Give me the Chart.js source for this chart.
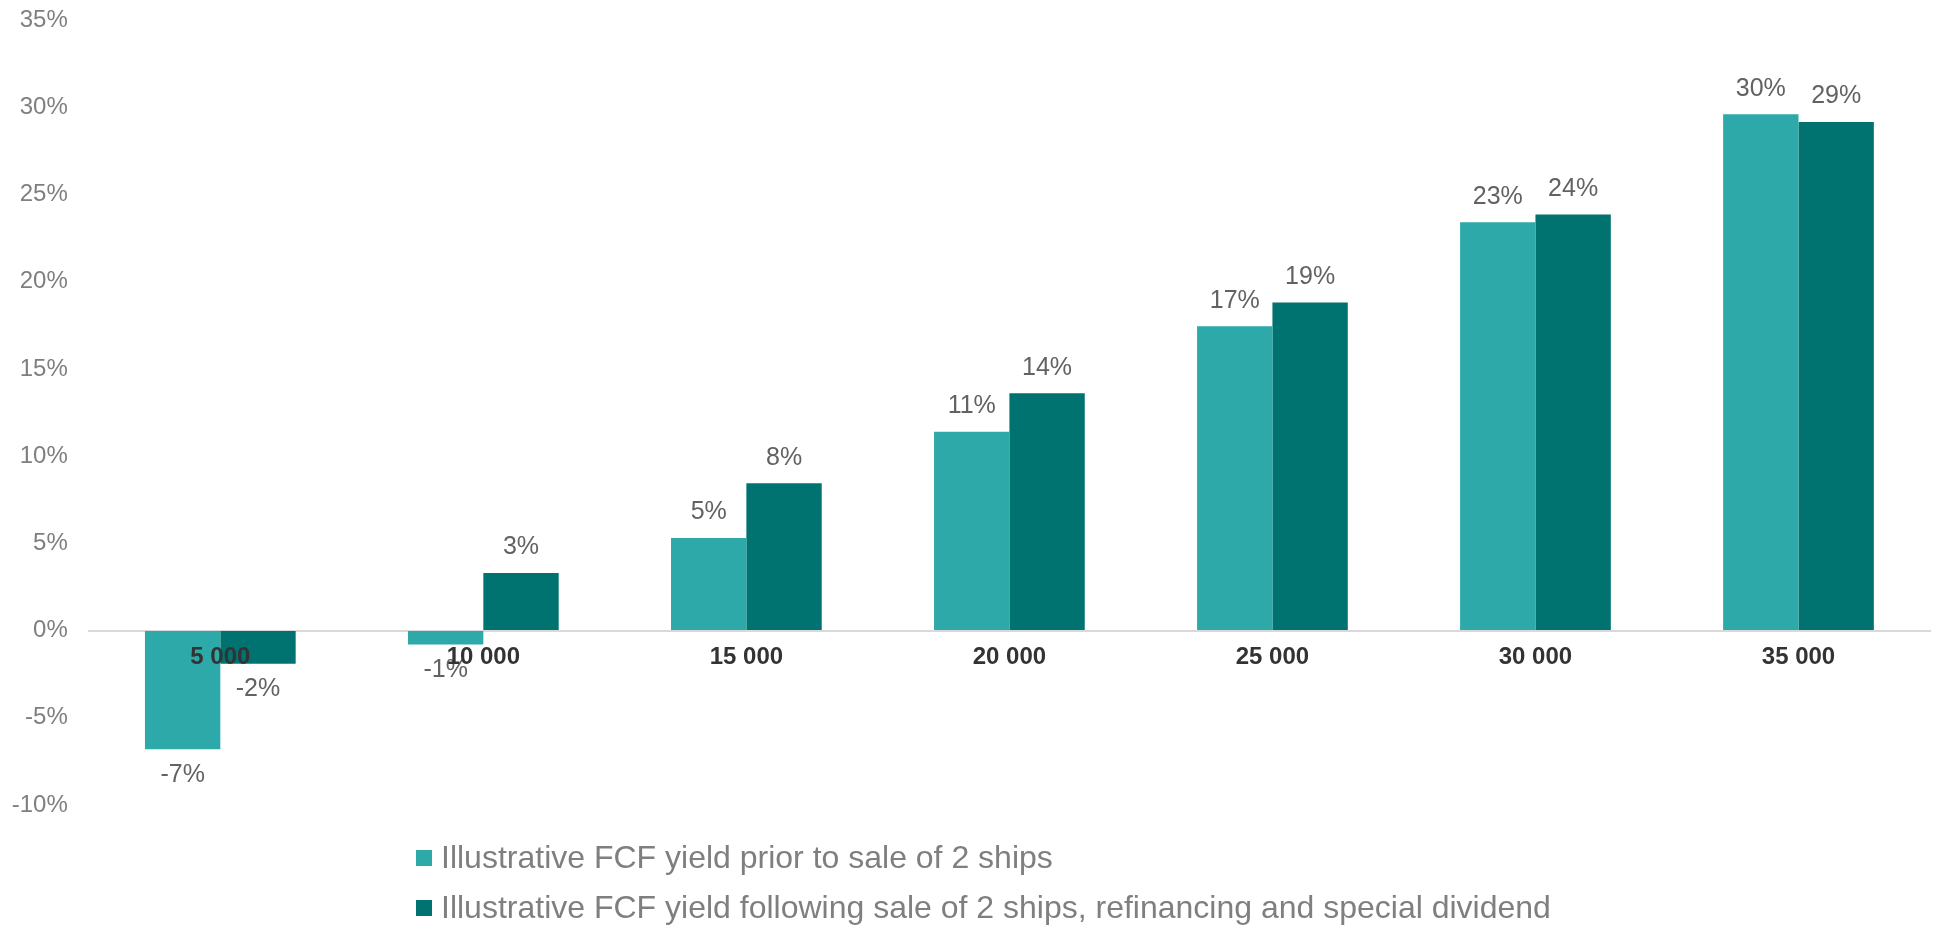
<!DOCTYPE html>
<html>
<head>
<meta charset="utf-8">
<script src="https://cdn.jsdelivr.net/npm/chart.js@4.4.1/dist/chart.umd.min.js"></script>
<style>
  html, body { margin: 0; padding: 0; background: #ffffff; }
  #wrap { position: relative; width: 1933px; height: 930px; }
</style>
</head>
<body>
<div id="wrap"><canvas id="c"></canvas></div>
<script>
const categories = ['5 000', '10 000', '15 000', '20 000', '25 000', '30 000', '35 000'];
const seriesPriorLabel = 'Illustrative FCF yield prior to sale of 2 ships';
const seriesFollowingLabel = 'Illustrative FCF yield following sale of 2 ships, refinancing and special dividend';
const seriesPrior = [-6.8, -0.8, 5.3, 11.4, 17.45, 23.4, 29.6];
const seriesFollowing = [-1.9, 3.3, 8.45, 13.6, 18.8, 23.85, 29.15];
const yTicksMin = -10;
const yTicksMax = 35;
const yTicksStep = 5;

const FONT = '"Liberation Sans", Arial, sans-serif';
const COLOR_PRIOR = '#2EA9A9';
const COLOR_FOLLOW = '#007370';

const dataLabelPlugin = {
  id: 'dataLabels',
  afterDatasetsDraw(chart) {
    const ctx = chart.ctx;
    ctx.save();
    ctx.font = '25px ' + FONT;
    ctx.fillStyle = '#626262';
    ctx.textAlign = 'center';
    ctx.textBaseline = 'middle';
    chart.data.datasets.forEach((ds, di) => {
      const meta = chart.getDatasetMeta(di);
      meta.data.forEach((el, i) => {
        const v = ds.data[i];
        const txt = Math.round(v) + '%';
        const y = v >= 0 ? el.y - 25.5 : el.y + 25.5;
        ctx.fillText(txt, el.x, y);
      });
    });
    ctx.restore();
  }
};

const legendPlugin = {
  id: 'customLegend',
  afterDraw(chart) {
    const ctx = chart.ctx;
    ctx.save();
    ctx.font = '32px ' + FONT;
    ctx.textBaseline = 'middle';
    ctx.textAlign = 'left';
    const x0 = 416, rows = [858, 908];
    chart.data.datasets.forEach((ds, di) => {
      const y = rows[di];
      ctx.fillStyle = ds.backgroundColor;
      ctx.fillRect(x0, y - 8, 16, 16);
      ctx.fillStyle = '#7F7F7F';
      ctx.fillText(ds.label, x0 + 25, y + 1);
    });
    ctx.restore();
  }
};

new Chart(document.getElementById('c'), {
  type: 'bar',
  data: {
    labels: categories,
    datasets: [
      { label: seriesPriorLabel, data: seriesPrior, backgroundColor: COLOR_PRIOR, borderWidth: 0,
        categoryPercentage: 0.573, barPercentage: 1.0 },
      { label: seriesFollowingLabel, data: seriesFollowing, backgroundColor: COLOR_FOLLOW, borderWidth: 0,
        categoryPercentage: 0.573, barPercentage: 1.0 }
    ]
  },
  options: {
    responsive: true,
    maintainAspectRatio: false,
    animation: false,
    devicePixelRatio: 1,
    layout: { padding: { top: 20, bottom: 125, left: 0, right: 3 } },
    plugins: {
      legend: { display: false },
      tooltip: { enabled: false }
    },
    scales: {
      x: {
        position: { y: 0 },
        grid: { display: false },
        border: { display: true, color: '#D9D9D9', width: 2 },
        ticks: {
          z: 1,
          padding: 4,
          color: '#333333',
          font: { family: FONT, size: 24, weight: 'bold' },
          maxRotation: 0,
          autoSkip: false
        }
      },
      y: {
        min: yTicksMin,
        max: yTicksMax,
        grid: { display: true, drawOnChartArea: false, drawTicks: true, tickLength: 21, color: 'rgba(0,0,0,0)' },
        border: { display: false },
        afterFit(scale) { scale.width = 88.8; },
        ticks: {
          stepSize: yTicksStep,
          padding: 0,
          color: '#7F7F7F',
          font: { family: FONT, size: 24 },
          callback: (v) => v + '%'
        }
      }
    }
  },
  plugins: [dataLabelPlugin, legendPlugin]
});
</script>
</body>
</html>
